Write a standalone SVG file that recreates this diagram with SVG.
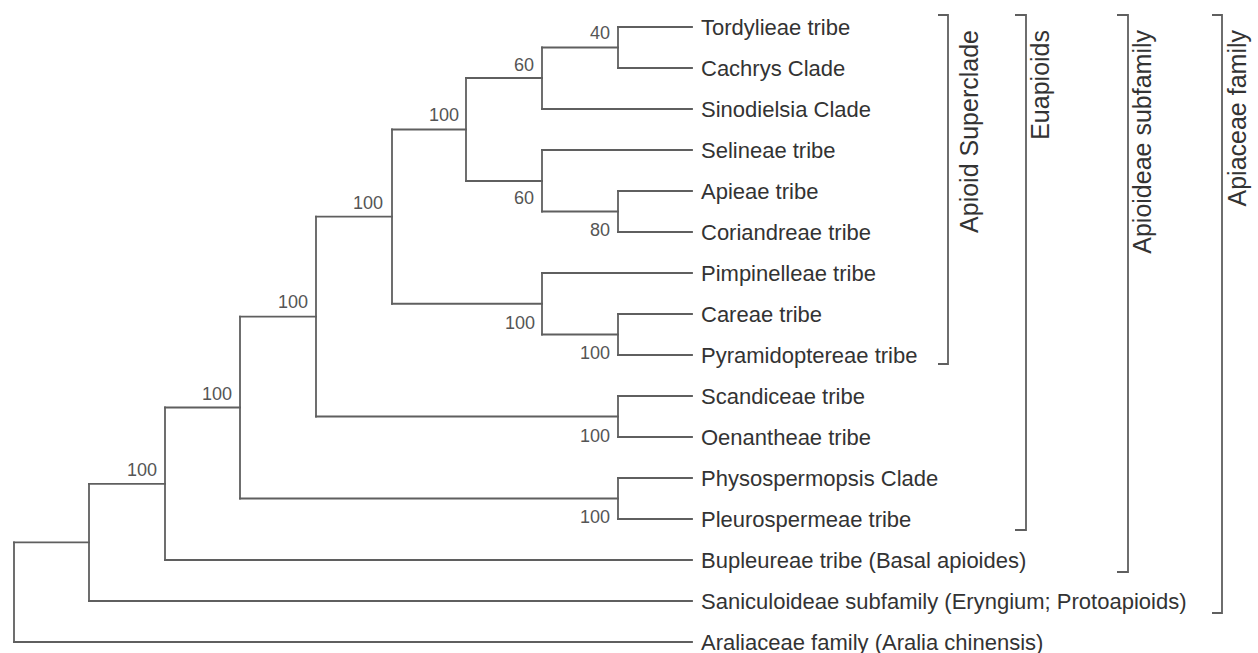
<svg xmlns="http://www.w3.org/2000/svg" width="1258" height="653" viewBox="0 0 1258 653">
<style>
.ln{stroke:#5f5f5f;stroke-width:1.8;fill:none;stroke-linecap:square}
.leaf{font-family:"Liberation Sans",Arial,sans-serif;font-size:22px;fill:#333}
.bs{font-family:"Liberation Sans",Arial,sans-serif;font-size:18px;fill:#555;text-anchor:end}
.grp{font-family:"Liberation Sans",Arial,sans-serif;font-size:25px;fill:#333;text-anchor:end}
.br{stroke:#5f5f5f;stroke-width:1.8;fill:none}
</style>
<rect width="1258" height="653" fill="#fff"/>
<g id="connectors" class="ln">
<path d="M618 27V68"/>
<path d="M542 47.5V109"/>
<path d="M618 191V232"/>
<path d="M542 150V211.5"/>
<path d="M466 78V181"/>
<path d="M618 314V355"/>
<path d="M542 273V334.5"/>
<path d="M392 129.5V303.75"/>
<path d="M618 396V437"/>
<path d="M316 216.6V416.5"/>
<path d="M618 478V519"/>
<path d="M240 316.6V498.5"/>
<path d="M165 407.5V560"/>
<path d="M89 483.8V601"/>
<path d="M14 542.4V642"/>
<path d="M542 47.5H618"/>
<path d="M466 78H542"/>
<path d="M466 181H542"/>
<path d="M542 211.5H618"/>
<path d="M392 129.5H466"/>
<path d="M392 303.75H542"/>
<path d="M542 334.5H618"/>
<path d="M316 216.6H392"/>
<path d="M316 416.5H618"/>
<path d="M240 316.6H316"/>
<path d="M240 498.5H618"/>
<path d="M165 407.5H240"/>
<path d="M89 483.8H165"/>
<path d="M14 542.4H89"/>
<path d="M618 27H692"/>
<path d="M618 68H692"/>
<path d="M542 109H692"/>
<path d="M542 150H692"/>
<path d="M618 191H692"/>
<path d="M618 232H692"/>
<path d="M542 273H692"/>
<path d="M618 314H692"/>
<path d="M618 355H692"/>
<path d="M618 396H692"/>
<path d="M618 437H692"/>
<path d="M618 478H692"/>
<path d="M618 519H692"/>
<path d="M165 560H692"/>
<path d="M89 601H692"/>
<path d="M14 642H692"/>
</g>
<g id="leaves" class="leaf">
<g id="leaf-tordylieae"><text x="701" y="35">Tordylieae tribe</text></g>
<g id="leaf-cachrys"><text x="701" y="76">Cachrys Clade</text></g>
<g id="leaf-sinodielsia"><text x="701" y="117">Sinodielsia Clade</text></g>
<g id="leaf-selineae"><text x="701" y="158">Selineae tribe</text></g>
<g id="leaf-apieae"><text x="701" y="199">Apieae tribe</text></g>
<g id="leaf-coriandreae"><text x="701" y="240">Coriandreae tribe</text></g>
<g id="leaf-pimpinelleae"><text x="701" y="281">Pimpinelleae tribe</text></g>
<g id="leaf-careae"><text x="701" y="322">Careae tribe</text></g>
<g id="leaf-pyramidoptereae"><text x="701" y="363">Pyramidoptereae tribe</text></g>
<g id="leaf-scandiceae"><text x="701" y="404">Scandiceae tribe</text></g>
<g id="leaf-oenantheae"><text x="701" y="445">Oenantheae tribe</text></g>
<g id="leaf-physospermopsis"><text x="701" y="486">Physospermopsis Clade</text></g>
<g id="leaf-pleurospermeae"><text x="701" y="527">Pleurospermeae tribe</text></g>
<g id="leaf-bupleureae"><text x="701" y="568">Bupleureae tribe (Basal apioides)</text></g>
<g id="leaf-saniculoideae"><text x="701" y="609">Saniculoideae subfamily (Eryngium; Protoapioids)</text></g>
<g id="leaf-araliaceae"><text x="701" y="650">Araliaceae family (Aralia chinensis)</text></g>
</g>
<g id="supports" class="bs">
<g id="node-a"><text x="610" y="38.5">40</text></g>
<g id="node-b"><text x="534" y="70.5">60</text></g>
<g id="node-e"><text x="459" y="120.5">100</text></g>
<g id="node-d"><text x="534" y="203.5">60</text></g>
<g id="node-c"><text x="610" y="235.5">80</text></g>
<g id="node-h"><text x="383" y="209">100</text></g>
<g id="node-g"><text x="535" y="328.5">100</text></g>
<g id="node-f"><text x="610" y="358.5">100</text></g>
<g id="node-j"><text x="308" y="308">100</text></g>
<g id="node-i"><text x="610" y="441.5">100</text></g>
<g id="node-l"><text x="232" y="399.5">100</text></g>
<g id="node-m"><text x="157" y="475.5">100</text></g>
<g id="node-k"><text x="610" y="522.5">100</text></g>
</g>
<g id="bracket-apioid-superclade">
<path class="br" d="M938 15H948V364H938"/>
<text class="grp" transform="translate(978,30) rotate(-90)">Apioid Superclade</text>
</g>
<g id="bracket-euapioids">
<path class="br" d="M1015 15H1026V530H1015"/>
<text class="grp" transform="translate(1049,30) rotate(-90)">Euapioids</text>
</g>
<g id="bracket-apioideae">
<path class="br" d="M1117 15H1128V572H1117"/>
<text class="grp" transform="translate(1151,30) rotate(-90)">Apioideae subfamily</text>
</g>
<g id="bracket-apiaceae">
<path class="br" d="M1212 15H1222V613H1212"/>
<text class="grp" transform="translate(1246,30) rotate(-90)">Apiaceae family</text>
</g>
</svg>
